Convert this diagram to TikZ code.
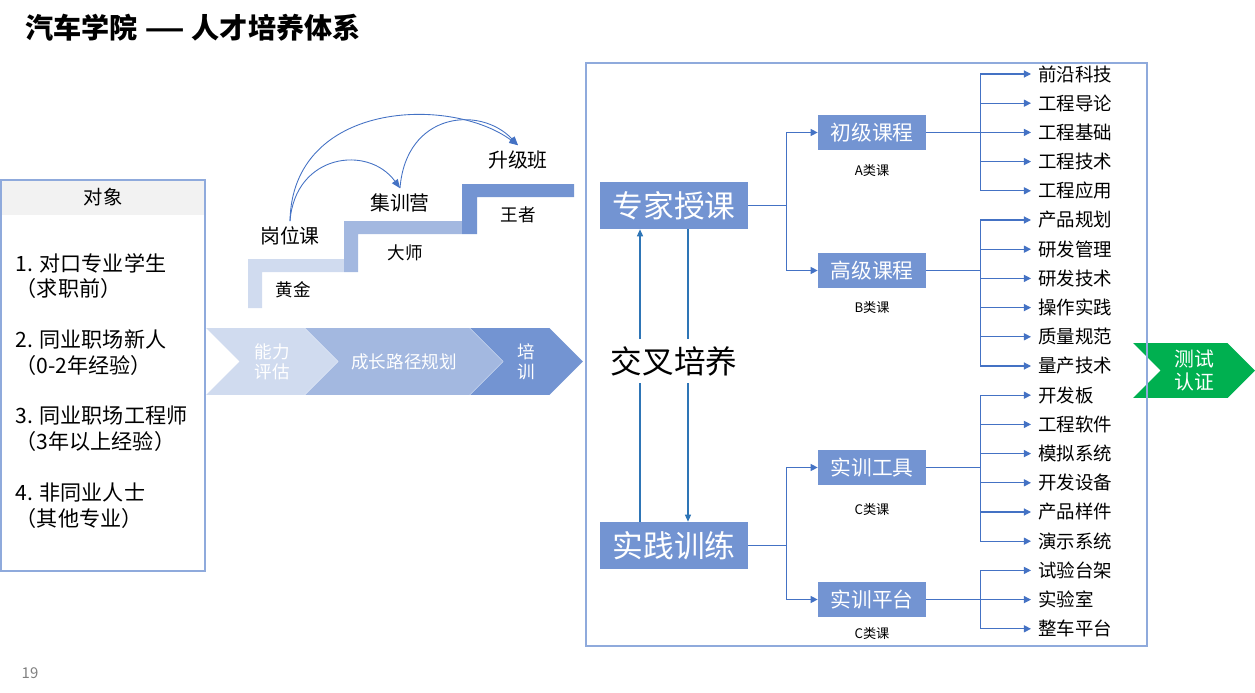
\documentclass[tikz,border=0pt]{standalone}
\usepackage{fontspec}
\setmainfont{Noto Sans CJK SC}
\usepackage{tikz}
\usetikzlibrary{arrows.meta,positioning,shapes.symbols}
\definecolor{acadblue}{HTML}{7394D2}
\definecolor{acadmid}{HTML}{A3B8E0}
\definecolor{acadlight}{HTML}{D0DBEF}
\definecolor{acadframe}{HTML}{8FAADC}
\definecolor{acadline}{HTML}{4472C4}
\definecolor{acadcross}{HTML}{2E75B6}
\definecolor{acadgreen}{HTML}{00B050}
\definecolor{acadhead}{HTML}{F2F2F2}
\tikzset{
  major/.style={rectangle,fill=acadblue,text=white,minimum width=2.96cm,minimum height=0.94cm,
    inner sep=0pt,font=\fontsize{17.5}{20}\selectfont},
  course/.style={rectangle,fill=acadblue,text=white,minimum width=2.16cm,minimum height=0.7cm,
    inner sep=0pt,font=\fontsize{11.8}{14}\selectfont},
  tag/.style={inner sep=0pt,font=\fontsize{7.5}{9}\selectfont},
  item/.style={anchor=west,inner xsep=4pt,inner ysep=0pt,font=\fontsize{10.5}{12}\selectfont},
  link/.style={-{Triangle[length=4pt,width=4pt]},line width=0.6pt,draw=acadline},
  crosslink/.style={-{Triangle[length=4pt,width=3.5pt]},line width=0.6pt,draw=acadcross},
  curve/.style={-{Triangle[length=5pt,width=4pt]},line width=0.5pt,draw=acadline},
  chevron/.style={signal,signal from=west,signal to=east,signal pointer angle=90,fill=#1,draw=none,
    inner sep=0pt,text=white,align=center,minimum height=1.34cm,font=\fontsize{10}{11.3}\selectfont},
  steptext/.style={inner sep=3pt,font=\fontsize{11.3}{13}\selectfont},
  ranktext/.style={inner sep=0pt,font=\fontsize{10}{12}\selectfont},
  target/.style={anchor=west,align=left,inner sep=2pt,font=\fontsize{12}{14.7}\selectfont},
  frame/.style={draw=acadframe,line width=0.9pt}
}

\begin{document}
\begin{tikzpicture}[x=0.02cm,y=-0.02cm]
\useasboundingbox (0,0) rectangle (1255,693);

\node[anchor=west,inner sep=0pt,font=\fontsize{16}{19}\selectfont\bfseries] (title) at (25,28) {汽车学院 \scalebox{1.6}[1]{—} 人才培养体系};
\node[text=black!50,inner sep=0pt,font=\fontsize{8.5}{10}\selectfont] (pagenum) at (30,673) {19};

% target groups
\node[fill=acadhead,minimum width=4.08cm,minimum height=0.7cm,inner sep=0pt,font=\fontsize{11}{13}\selectfont] (head) at (103,197.5) {对象};
\node[frame,minimum width=4.08cm,minimum height=7.82cm,inner sep=0pt] (panel) at (103,375.5) {};
\node[target] (grp1) at (12,276) {1. 对口专业学生\\（求职前）};
\node[target] (grp2) at (12,352.5) {2. 同业职场新人\\（0-2年经验）};
\node[target] (grp3) at (12,429) {3. 同业职场工程师\\（3年以上经验）};
\node[target] (grp4) at (12,506) {4. 非同业人士\\（其他专业）};

% stairs
\fill[acadlight] (248,308) -- (248,259) -- (344,259) -- (344,272) -- (262,272) -- (262,308) -- cycle;
\fill[acadmid] (344,272) -- (344,221) -- (462,221) -- (462,234) -- (358,234) -- (358,272) -- cycle;
\fill[acadblue] (462,234) -- (462,184) -- (574,184) -- (574,197) -- (477,197) -- (477,234) -- cycle;
\node[ranktext] (huangjin) at (293,290) {黄金};
\node[ranktext] (dashi) at (405,253) {大师};
\node[ranktext] (wangzhe) at (518,215) {王者};
\node[steptext] (gangwei) at (290,236) {岗位课};
\node[steptext] (jixun) at (400,203) {集训营};
\node[steptext] (shengji) at (518,160) {升级班};
\draw[curve] (gangwei.north) .. controls +(5,-67) and +(-32,-44) .. (jixun.north);
\draw[curve] (gangwei.north) .. controls +(2,-120) and +(-68,-50) .. (shengji.north);
\draw[curve] (jixun.north) .. controls +(6,-76) and +(-38,-40) .. (shengji.north);

% path band
\node[chevron=acadlight,minimum width=2.64cm] (pinggu) at (272,361.5) {能力\\评估};
\node[chevron=acadmid,minimum width=3.96cm] (guihua) at (404,361.5) {成长路径规划};
\node[chevron=acadblue,minimum width=2.26cm] (peixun) at (526.5,361.5) {培\\训};
\node[chevron=acadgreen,minimum width=2.44cm,minimum height=1.1cm,font=\fontsize{11.3}{13.6}\selectfont] (renzheng) at (1194,370.5) {测试\\认证};

% training system
\draw[frame] (586,63) rectangle (1147,646);
\node[major] (zhuanjia) at (674,205.5) {专家授课};
\node[major] (shijian) at (674,545.5) {实践训练};
\node[course] (chuji) at (872,132.5) {初级课程};
\node[course] (gaoji) at (872,270.5) {高级课程};
\node[course] (gongju) at (872,467.5) {实训工具};
\node[course] (pingtai) at (872,599.5) {实训平台};
\node[tag,below=0.27cm of chuji] (clsA) {A类课};
\node[tag,below=0.25cm of gaoji] (clsB) {B类课};
\node[tag,below=0.35cm of gongju] (clsC) {C类课};
\node[tag,below=0.19cm of pingtai] (clsD) {C类课};

\draw[link] (zhuanjia.east) -- ++(38,0) |- (chuji.west);
\draw[link] (zhuanjia.east) -- ++(38,0) |- (gaoji.west);
\draw[link] (shijian.east) -- ++(38,0) |- (gongju.west);
\draw[link] (shijian.east) -- ++(38,0) |- (pingtai.west);

\draw[crosslink] ([xshift=-0.68cm]shijian.north) -- ([xshift=-0.68cm]zhuanjia.south);
\draw[crosslink] ([xshift=0.28cm]zhuanjia.south) -- ([xshift=0.28cm]shijian.north);
\node[fill=white,inner sep=4pt,font=\fontsize{18}{20}\selectfont] (jiaocha) at (674,361) {交叉培养};

\foreach \t/\p [count=\i from 0] in {前沿科技/chuji,工程导论/chuji,工程基础/chuji,工程技术/chuji,工程应用/chuji,
    产品规划/gaoji,研发管理/gaoji,研发技术/gaoji,操作实践/gaoji,质量规范/gaoji,量产技术/gaoji,
    开发板/gongju,工程软件/gongju,模拟系统/gongju,开发设备/gongju,产品样件/gongju,演示系统/gongju,
    试验台架/pingtai,实验室/pingtai,整车平台/pingtai} {
  \node[item] (it\i) at (1031,74+29.2*\i) {\t};
  \draw[link] (\p.east) -- ++(54,0) |- (it\i.west);
}
\end{tikzpicture}
\end{document}
